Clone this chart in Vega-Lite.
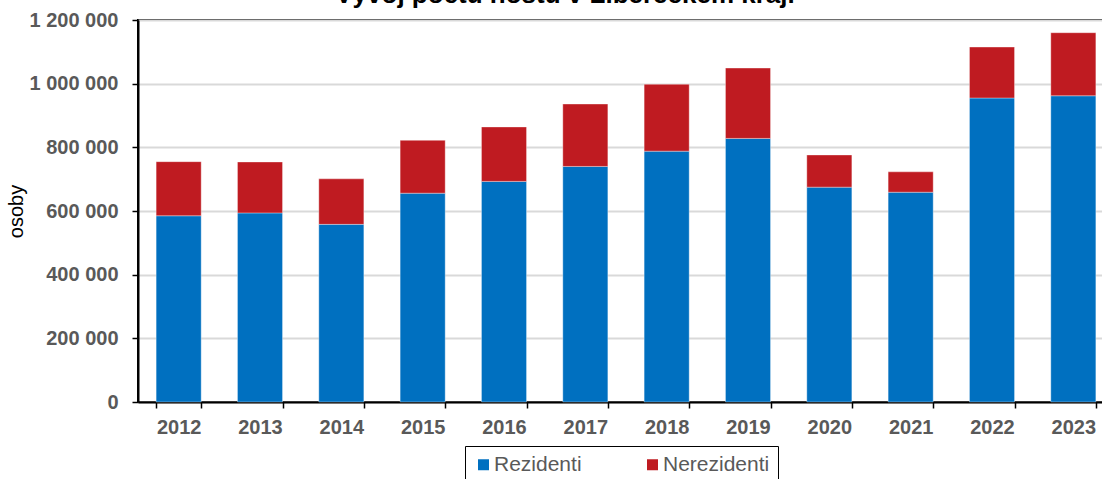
{
  "$schema": "https://vega.github.io/schema/vega-lite/v6.json",
  "width": 976,
  "height": 382,
  "padding": {"left": 6, "top": -18, "right": 0, "bottom": 0},
  "background": "#ffffff",
  "title": {
    "text": "Vývoj počtu hostů v Libereckém kraji",
    "frame": "bounds",
    "anchor": "middle",
    "baseline": "alphabetic",
    "offset": -19,
    "dx": 5,
    "font": "Liberation Sans",
    "fontSize": 26,
    "fontWeight": "bold",
    "color": "#000000"
  },
  "data": {
    "values": [
      {"rok": "2012", "typ": "Rezidenti", "poradi": 1, "hoste": 585000},
      {"rok": "2012", "typ": "Nerezidenti", "poradi": 2, "hoste": 170000},
      {"rok": "2013", "typ": "Rezidenti", "poradi": 1, "hoste": 594000},
      {"rok": "2013", "typ": "Nerezidenti", "poradi": 2, "hoste": 160000},
      {"rok": "2014", "typ": "Rezidenti", "poradi": 1, "hoste": 558000},
      {"rok": "2014", "typ": "Nerezidenti", "poradi": 2, "hoste": 143000},
      {"rok": "2015", "typ": "Rezidenti", "poradi": 1, "hoste": 656000},
      {"rok": "2015", "typ": "Nerezidenti", "poradi": 2, "hoste": 166000},
      {"rok": "2016", "typ": "Rezidenti", "poradi": 1, "hoste": 693000},
      {"rok": "2016", "typ": "Nerezidenti", "poradi": 2, "hoste": 171000},
      {"rok": "2017", "typ": "Rezidenti", "poradi": 1, "hoste": 740000},
      {"rok": "2017", "typ": "Nerezidenti", "poradi": 2, "hoste": 196000},
      {"rok": "2018", "typ": "Rezidenti", "poradi": 1, "hoste": 788000},
      {"rok": "2018", "typ": "Nerezidenti", "poradi": 2, "hoste": 210000},
      {"rok": "2019", "typ": "Rezidenti", "poradi": 1, "hoste": 828000},
      {"rok": "2019", "typ": "Nerezidenti", "poradi": 2, "hoste": 221000},
      {"rok": "2020", "typ": "Rezidenti", "poradi": 1, "hoste": 675000},
      {"rok": "2020", "typ": "Nerezidenti", "poradi": 2, "hoste": 101000},
      {"rok": "2021", "typ": "Rezidenti", "poradi": 1, "hoste": 659000},
      {"rok": "2021", "typ": "Nerezidenti", "poradi": 2, "hoste": 64000},
      {"rok": "2022", "typ": "Rezidenti", "poradi": 1, "hoste": 955000},
      {"rok": "2022", "typ": "Nerezidenti", "poradi": 2, "hoste": 160000},
      {"rok": "2023", "typ": "Rezidenti", "poradi": 1, "hoste": 962000},
      {"rok": "2023", "typ": "Nerezidenti", "poradi": 2, "hoste": 198000}
    ]
  },
  "mark": {"type": "bar", "stroke": "#ffffff", "strokeOpacity": 0.35, "strokeWidth": 1},
  "encoding": {
    "x": {
      "field": "rok",
      "type": "ordinal",
      "scale": {"paddingInner": 0.446, "paddingOuter": 0.223},
      "axis": {
        "title": null,
        "labelAngle": 0,
        "labelFont": "Liberation Sans",
        "labelFontSize": 20,
        "labelFontWeight": "bold",
        "labelColor": "#595959",
        "labelPadding": 9,
        "tickBand": "extent",
        "tickColor": "#000000",
        "tickSize": 6,
        "tickWidth": 1.5,
        "domainColor": "#000000",
        "domainWidth": 2,
        "grid": false
      }
    },
    "y": {
      "field": "hoste",
      "type": "quantitative",
      "stack": "zero",
      "scale": {"domain": [0, 1200000], "nice": false},
      "axis": {
        "title": "osoby",
        "titleFont": "Liberation Sans",
        "titleFontSize": 20,
        "titleFontWeight": "normal",
        "titleColor": "#000000",
        "titlePadding": 3,
        "values": [0, 200000, 400000, 600000, 800000, 1000000, 1200000],
        "labelExpr": "replace(format(datum.value, ','), regexp(',', 'g'), ' ')",
        "labelFont": "Liberation Sans",
        "labelFontSize": 20,
        "labelFontWeight": "bold",
        "labelColor": "#595959",
        "labelPadding": 14,
        "tickColor": "#000000",
        "tickSize": 6,
        "tickWidth": 1.5,
        "domainColor": "#000000",
        "domainWidth": 2,
        "gridColor": "#D9D9D9",
        "gridWidth": 2
      }
    },
    "color": {
      "field": "typ",
      "type": "nominal",
      "sort": ["Rezidenti", "Nerezidenti"],
      "scale": {"domain": ["Rezidenti", "Nerezidenti"], "range": ["#0070C0", "#BF1B21"]},
      "legend": {
        "title": null,
        "orient": "none",
        "direction": "horizontal",
        "legendX": 327,
        "legendY": 426,
        "padding": 8,
        "strokeColor": "#000000",
        "symbolType": "square",
        "symbolSize": 121,
        "symbolStrokeWidth": 0,
        "symbolOpacity": 1,
        "labelFont": "Liberation Sans",
        "labelFontSize": 21,
        "labelColor": "#595959",
        "labelOffset": 0,
        "columnPadding": 60
      }
    },
    "order": {"field": "poradi", "type": "quantitative"}
  },
  "config": {
    "view": {"stroke": "#000000", "strokeWidth": 2},
    "axis": {"gridDash": []}
  }
}
